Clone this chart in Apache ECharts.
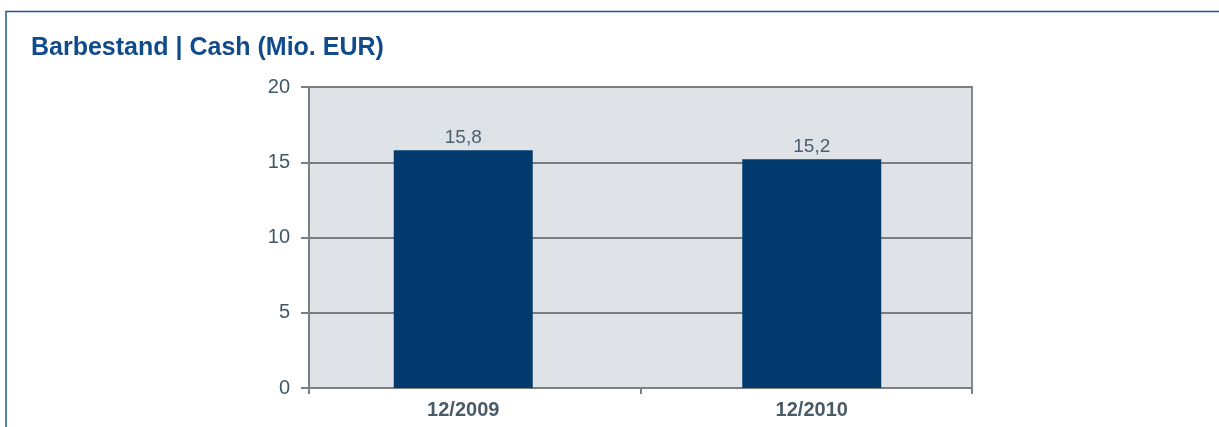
<!DOCTYPE html>
<html>
<head>
<meta charset="utf-8">
<script src="https://cdn.jsdelivr.net/npm/echarts@6/dist/echarts.min.js"></script>
<style>
  html, body { margin: 0; padding: 0; background: #ffffff; }
  #chart { width: 1219px; height: 427px; }
</style>
</head>
<body>
<div id="chart"></div>
<script>
// Cash position at year end, in millions of EUR
const categories = ['12/2009', '12/2010'];
const cashValues = [15.8, 15.2];
const yTicks = [0, 5, 10, 15, 20];

const chart = echarts.init(document.getElementById('chart'), null, { renderer: 'canvas' });

const tickColor = '#3f5868';
const lineColor = '#7d7f82';
const font = 'Liberation Sans, Arial, sans-serif';

chart.setOption({
  backgroundColor: '#ffffff',
  animation: false,
  title: {
    text: 'Barbestand | Cash (Mio. EUR)',
    left: 31,
    top: 36,
    padding: 0,
    textStyle: {
      fontFamily: font,
      fontWeight: 'bold',
      fontSize: 25,
      color: '#104b8c'
    }
  },
  graphic: [
    // Frame: top and left rules of the panel
    {
      type: 'polyline',
      shape: { points: [[6, 427], [6, 11.5], [1219, 11.5]] },
      style: { stroke: '#1f5597', lineWidth: 1.5, fill: null },
      silent: true
    }
  ],
  grid: [
    {
      // plot frame, background and value axis
      left: 309, right: 247, top: 87, height: 301,
      show: true,
      backgroundColor: '#dfe2e7',
      borderColor: '#888a8d',
      borderWidth: 2
    },
    {
      // layer holding the bars and category labels
      left: 289, right: 233, top: 87, height: 301,
      show: false
    }
  ],
  xAxis: [
    {
      type: 'category',
      gridIndex: 0,
      data: categories,
      boundaryGap: true,
      axisLine: { show: true, lineStyle: { color: lineColor, width: 2 } },
      axisTick: { show: true, length: 6, lineStyle: { color: lineColor, width: 2 } },
      axisLabel: { show: false },
      splitLine: { show: false }
    },
    {
      type: 'category',
      gridIndex: 1,
      data: categories,
      axisLine: { show: false },
      axisTick: { show: false },
      axisLabel: {
        show: true,
        margin: 12,
        fontFamily: font,
        fontWeight: 'bold',
        fontSize: 20,
        color: '#4a5b68'
      }
    }
  ],
  yAxis: [
    {
      type: 'value',
      gridIndex: 0,
      min: yTicks[0],
      max: yTicks[yTicks.length - 1],
      interval: yTicks[1] - yTicks[0],
      axisLine: { show: true, lineStyle: { color: lineColor, width: 2 } },
      axisTick: { show: true, length: 8, lineStyle: { color: lineColor, width: 2 } },
      axisLabel: {
        margin: 19,
        fontFamily: font,
        fontSize: 20,
        color: tickColor
      },
      splitLine: { show: true, lineStyle: { color: '#7a7c80', width: 2 } }
    },
    {
      type: 'value',
      gridIndex: 1,
      min: yTicks[0],
      max: yTicks[yTicks.length - 1],
      interval: yTicks[1] - yTicks[0],
      show: false
    }
  ],
  series: [
    {
      type: 'bar',
      xAxisIndex: 1,
      yAxisIndex: 1,
      data: cashValues,
      barWidth: 139,
      itemStyle: { color: '#033b6f' },
      label: {
        show: true,
        position: 'top',
        distance: 3,
        fontFamily: font,
        fontSize: 19,
        color: '#4b6170',
        formatter: p => String(p.value).replace('.', ',')
      }
    }
  ]
});
</script>
</body>
</html>
